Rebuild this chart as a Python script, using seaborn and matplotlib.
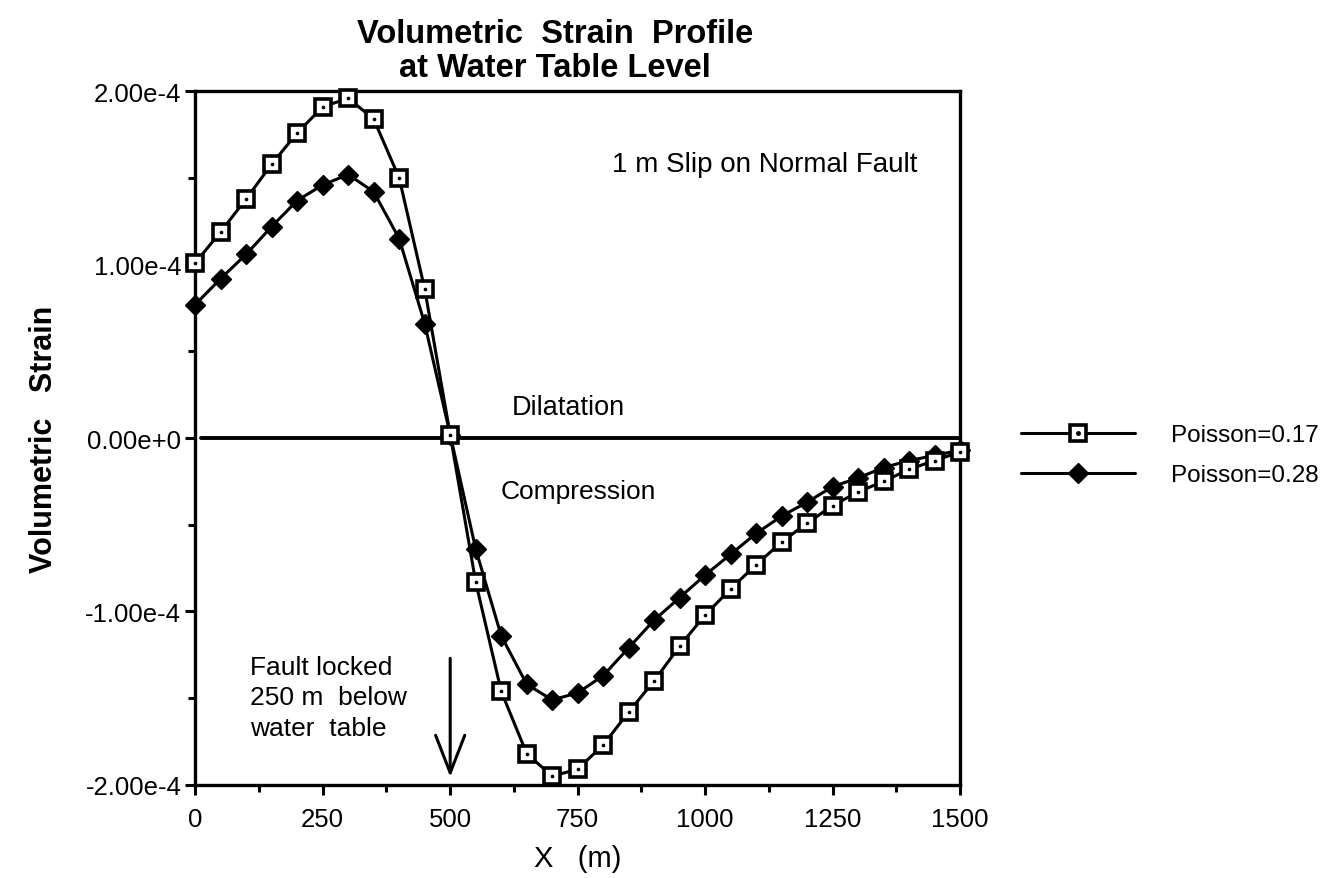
import matplotlib
matplotlib.use("Agg")
import matplotlib.pyplot as plt
import seaborn as sns
import pandas as pd
from matplotlib.lines import Line2D
from matplotlib.legend_handler import HandlerTuple
from matplotlib.ticker import FixedLocator, FixedFormatter, MultipleLocator

# ---------------- data ----------------
x_m = [0, 50, 100, 150, 200, 250, 300, 350, 400, 450, 500,
       550, 600, 650, 700, 750, 800, 850, 900, 950, 1000,
       1050, 1100, 1150, 1200, 1250, 1300, 1350, 1400, 1450, 1500]

# volumetric strain in units of 1e-4
strain_p017 = [1.01, 1.19, 1.38, 1.58, 1.76, 1.91, 1.96, 1.84, 1.50, 0.86, 0.02,
               -0.83, -1.46, -1.82, -1.95, -1.91, -1.77, -1.58, -1.40, -1.20, -1.02,
               -0.87, -0.73, -0.60, -0.49, -0.39, -0.31, -0.25, -0.18, -0.13, -0.08]
strain_p028 = [0.77, 0.92, 1.06, 1.22, 1.37, 1.46, 1.52, 1.42, 1.15, 0.66, 0.02,
               -0.64, -1.14, -1.42, -1.51, -1.47, -1.37, -1.21, -1.05, -0.92, -0.79,
               -0.67, -0.55, -0.45, -0.37, -0.28, -0.23, -0.17, -0.13, -0.10, -0.07]
UNIT = 1e-4

series_names = ["Poisson=0.17", "Poisson=0.28"]

x_ticks = [0, 250, 500, 750, 1000, 1250, 1500]
x_tick_labels = ["0", "250", "500", "750", "1000", "1250", "1500"]
y_ticks = [-2e-4, -1e-4, 0.0, 1e-4, 2e-4]
y_tick_labels = ["-2.00e-4", "-1.00e-4", "0.00e+0", "1.00e-4", "2.00e-4"]

title_text = "Volumetric  Strain  Profile\nat Water Table Level"
x_label = "X   (m)"
y_label = "Volumetric   Strain"
note_slip = "1 m Slip on Normal Fault"
note_dil = "Dilatation"
note_comp = "Compression"
note_fault = "Fault locked\n250 m  below\nwater  table"

df = pd.DataFrame({
    "x": x_m + x_m,
    "strain": [v * UNIT for v in strain_p017] + [v * UNIT for v in strain_p028],
    "series": [series_names[0]] * len(x_m) + [series_names[1]] * len(x_m),
})

# ---------------- style ----------------
sns.set_style("ticks")
plt.rcParams['font.family'] = ['Liberation Sans', 'DejaVu Sans']
plt.rcParams['text.color'] = 'black'
plt.rcParams['axes.labelcolor'] = 'black'
plt.rcParams['xtick.color'] = 'black'
plt.rcParams['ytick.color'] = 'black'

fig = plt.figure(figsize=(13.28, 8.79), dpi=100)
ax = fig.add_axes([0.147, 0.106, 0.576, 0.789])

d17 = df[df["series"] == series_names[0]]
d28 = df[df["series"] == series_names[1]]

ax.axhline(0, xmin=0.008, xmax=1.0, color="black", lw=2.8, zorder=2)

sns.lineplot(data=d28, x="x", y="strain", ax=ax, color="black", lw=2.2,
             marker="D", markersize=10, markerfacecolor="black",
             markeredgecolor="black", markeredgewidth=1, legend=False,
             clip_on=False, zorder=3)
sns.lineplot(data=d17, x="x", y="strain", ax=ax, color="black", lw=2.2,
             marker="s", markersize=11, markerfacecolor="white",
             markeredgecolor="black", markeredgewidth=2.6, legend=False,
             clip_on=False, zorder=4)
sns.scatterplot(data=d17, x="x", y="strain", ax=ax, marker="o", s=7,
                color="black", linewidth=0, legend=False, clip_on=False,
                zorder=5)

ax.set_xlim(0, 1500)
ax.set_ylim(-2e-4, 2e-4)

ax.xaxis.set_major_locator(FixedLocator(x_ticks))
ax.xaxis.set_major_formatter(FixedFormatter(x_tick_labels))
ax.xaxis.set_minor_locator(MultipleLocator(125))
ax.yaxis.set_major_locator(FixedLocator(y_ticks))
ax.yaxis.set_major_formatter(FixedFormatter(y_tick_labels))
ax.yaxis.set_minor_locator(MultipleLocator(0.5e-4))

ax.tick_params(axis="both", which="major", direction="out", length=7,
               width=2.2, labelsize=18.5, colors="black", pad=3)
ax.tick_params(axis="both", which="minor", direction="out", length=5,
               width=2.2, colors="black")
ax.tick_params(axis="x", which="major", pad=9)

for s in ax.spines.values():
    s.set_linewidth(2.4)
    s.set_color("black")

ax.set_xlabel(x_label, fontsize=21, labelpad=9)
ax.set_ylabel(y_label, fontsize=22, fontweight="bold", labelpad=19)

fig.text(0.418, 0.978, title_text, ha="center", va="top", fontsize=23.5,
         fontweight="bold", linespacing=1.1)

ax.text(818, 1.58e-4, note_slip, ha="left", va="center", fontsize=20)
ax.text(731, 0.18e-4, note_dil, ha="center", va="center", fontsize=19.5)
ax.text(751, -0.305e-4, note_comp, ha="center", va="center", fontsize=19)
ax.text(108, -1.25e-4, note_fault, ha="left", va="top", fontsize=19,
        linespacing=1.35)

ax.annotate("", xy=(500, -1.955e-4), xytext=(500, -1.27e-4),
            arrowprops=dict(arrowstyle="->,head_length=0.9,head_width=0.35",
                            lw=2.2, color="black", mutation_scale=30,
                            shrinkA=0, shrinkB=0))

# legend
h17 = (Line2D([], [], color="black", lw=2.2, marker="s", markersize=11,
              markerfacecolor="white", markeredgecolor="black",
              markeredgewidth=2.6),
       Line2D([], [], color="black", lw=0, marker="o", markersize=2.5))
h28 = Line2D([], [], color="black", lw=2.2, marker="D", markersize=10,
             markerfacecolor="black")
fig.legend([h17, h28], series_names, loc="center left",
           bbox_to_anchor=(0.769, 0.481), frameon=False, fontsize=17.5,
           handlelength=4.7, handletextpad=1.45, labelspacing=0.75,
           borderpad=0, borderaxespad=0, numpoints=1,
           handler_map={tuple: HandlerTuple(ndivide=1)})

fig.savefig("out.png", dpi=100)
